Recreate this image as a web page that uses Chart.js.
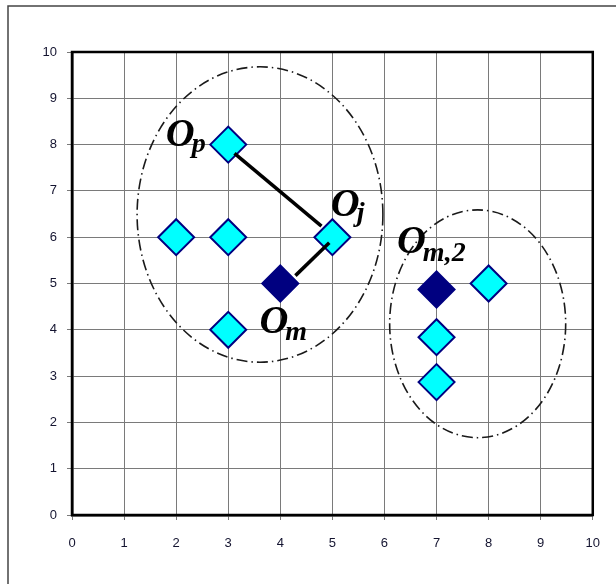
<!DOCTYPE html>
<html>
<head>
<meta charset="utf-8">
<script src="https://cdn.jsdelivr.net/npm/chart.js@4.4.1/dist/chart.umd.min.js"></script>
<style>
  html, body { margin: 0; padding: 0; background: #fff; }
  #grafico { display: block; }
</style>
</head>
<body>
<canvas id="grafico" width="616" height="584"></canvas>
<script>
// valores de los ejes
const ticksEje = [0, 1, 2, 3, 4, 5, 6, 7, 8, 9, 10];

// objetos claros (cyan)
const xClaros = [3, 2, 3, 5, 3, 8, 7, 7];
const yClaros = [8, 6, 6, 6, 4, 5, 3.84, 2.87];

// objetos oscuros (medoides)
const xOscuros = [4, 7];
const yOscuros = [5, 4.87];

// segmentos O_p -> O_j y O_m -> O_j
const seg1X = [3.12, 4.79];
const seg1Y = [7.81, 6.24];
const seg2X = [4.29, 4.94];
const seg2Y = [5.17, 5.88];

// elipses de los grupos (centro y radios en unidades de datos)
const elipseCx = [3.61, 7.79];
const elipseCy = [6.49, 4.13];
const elipseRx = [2.36, 1.69];
const elipseRy = [3.19, 2.46];

// etiquetas
const etiquetaSub = ["p", "j", "m", "m,2"];
const etiquetaX = [1.80, 4.97, 3.60, 6.24];
const etiquetaY = [7.98, 6.46, 3.93, 5.66];
const subBajada = [6, 5, 7, 8];

const aPuntos = (xs, ys) => xs.map((x, i) => ({x: x, y: ys[i]}));

const extras = {
    id: "extras",
    beforeDatasetsDraw(chart) {
        const ctx = chart.ctx;
        const sx = chart.scales.x, sy = chart.scales.y;
        const a = chart.chartArea;
        ctx.save();
        // marco exterior
        ctx.strokeStyle = "#444";
        ctx.lineWidth = 1.5;
        ctx.beginPath();
        ctx.moveTo(8, 584);
        ctx.lineTo(8, 6);
        ctx.lineTo(616, 6);
        ctx.stroke();
        // borde del area
        ctx.strokeStyle = "#000";
        ctx.lineWidth = 2.5;
        ctx.strokeRect(a.left, a.top, a.right - a.left, a.bottom - a.top);
        // elipses
        ctx.strokeStyle = "#1a1a1a";
        ctx.lineWidth = 1.6;
        ctx.setLineDash([11, 4, 1.5, 4]);
        elipseCx.forEach((cx, i) => {
            const px = sx.getPixelForValue(cx);
            const py = sy.getPixelForValue(elipseCy[i]);
            const rx = Math.abs(sx.getPixelForValue(cx + elipseRx[i]) - px);
            const ry = Math.abs(sy.getPixelForValue(elipseCy[i] + elipseRy[i]) - py);
            ctx.beginPath();
            ctx.ellipse(px, py, rx, ry, 0, 0, Math.PI * 2);
            ctx.stroke();
        });
        ctx.restore();
    },
    afterDatasetsDraw(chart) {
        const ctx = chart.ctx;
        const sx = chart.scales.x, sy = chart.scales.y;
        ctx.save();
        ctx.fillStyle = "#000";
        ctx.textBaseline = "alphabetic";
        ctx.textAlign = "left";
        etiquetaSub.forEach((sub, i) => {
            const px = sx.getPixelForValue(etiquetaX[i]);
            const py = sy.getPixelForValue(etiquetaY[i]);
            ctx.font = "bold italic 40px 'Liberation Serif'";
            ctx.fillText("O", px, py);
            const w = ctx.measureText("O").width;
            ctx.font = "bold italic 28px 'Liberation Serif'";
            ctx.fillText(sub, px + w - 3, py + subBajada[i]);
        });
        ctx.restore();
    }
};

const ctx = document.getElementById("grafico").getContext("2d");

const grafico = new Chart(ctx, {
    type: "scatter",
    data: {
        datasets: [
            {
                type: "line",
                data: aPuntos(seg1X, seg1Y),
                borderColor: "#000",
                borderWidth: 3.5,
                pointRadius: 0,
                fill: false
            },
            {
                type: "line",
                data: aPuntos(seg2X, seg2Y),
                borderColor: "#000",
                borderWidth: 3.5,
                pointRadius: 0,
                fill: false
            },
            {
                data: aPuntos(xOscuros, yOscuros),
                pointStyle: "rectRot",
                pointRadius: 18,
                backgroundColor: "#000080",
                borderColor: "#000080",
                borderWidth: 2
            },
            {
                data: aPuntos(xClaros, yClaros),
                pointStyle: "rectRot",
                pointRadius: 18,
                backgroundColor: "#00FFFF",
                borderColor: "#000080",
                borderWidth: 2
            }
        ]
    },
    options: {
        responsive: false,
        animation: false,
        devicePixelRatio: 1,
        layout: {padding: {left: 0, top: 52, right: 23, bottom: 0}},
        plugins: {legend: {display: false}, tooltip: {enabled: false}},
        scales: {
            x: {
                type: "linear",
                min: 0,
                max: 10,
                afterBuildTicks: (s) => { s.ticks = ticksEje.map(v => ({value: v})); },
                afterFit: (s) => { s.height = 69; },
                grid: {color: "#7a7a7a", lineWidth: 1, tickLength: 5},
                border: {display: true, color: "#000", width: 2.5},
                ticks: {
                    padding: 16,
                    color: "#141430",
                    font: {family: "'Liberation Sans'", size: 13},
                    maxRotation: 0
                }
            },
            y: {
                type: "linear",
                min: 0,
                max: 10,
                afterBuildTicks: (s) => { s.ticks = ticksEje.map(v => ({value: v})); },
                afterFit: (s) => { s.width = 72; },
                grid: {color: "#7a7a7a", lineWidth: 1, tickLength: 5},
                border: {display: true, color: "#000", width: 2.5},
                ticks: {
                    padding: 10,
                    color: "#141430",
                    font: {family: "'Liberation Sans'", size: 13}
                }
            }
        }
    },
    plugins: [extras]
});
</script>
</body>
</html>
